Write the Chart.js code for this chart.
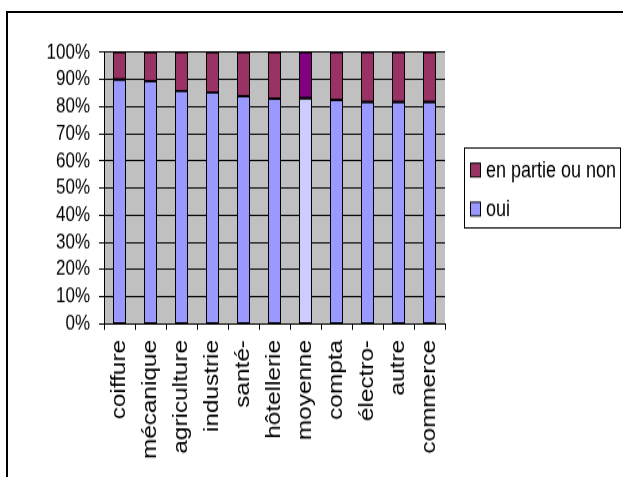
<!DOCTYPE html>
<html>
<head>
<meta charset="utf-8">
<script src="https://cdn.jsdelivr.net/npm/chart.js@4/dist/chart.umd.min.js"></script>
<style>
  html, body { margin: 0; padding: 0; background: #fff; overflow: hidden; }
  #frame { position: absolute; left: 6px; top: 11px; width: 640px; height: 500px; border: 2px solid #000; }
  #c { position: absolute; left: 0; top: 0; }
</style>
</head>
<body>
<div id="frame"></div>
<canvas id="c" width="623" height="382" style="width:623px;height:477px;display:block"></canvas>
<script>
// categories, sorted as in the picture
const categories = ["coiffure", "mécanique", "agriculture", "industrie", "santé-", "hôtellerie",
                    "moyenne", "compta", "électro-", "autre", "commerce"];
// share (%) answering "oui"
const oui = [90.0, 89.4, 85.8, 85.1, 83.8, 83.0, 83.1, 82.4, 81.7, 81.7, 81.7];
// share (%) answering "en partie ou non"
const enPartie = [10.0, 10.6, 14.2, 14.9, 16.2, 17.0, 16.9, 17.6, 18.3, 18.3, 18.3];
const yTicks = [0, 10, 20, 30, 40, 50, 60, 70, 80, 90, 100];

const FONT = "'Liberation Sans', Arial, sans-serif";
const OUI = "#9999FF", NON = "#993366";
const ouiColors = categories.map(c => c === "moyenne" ? "#CCCCFF" : OUI);
const nonColors = categories.map(c => c === "moyenne" ? "#800080" : NON);

// grey plot background
const plotBg = {
    id: "plotBg",
    beforeDraw(chart) {
        const { ctx, chartArea: a } = chart;
        ctx.save();
        ctx.fillStyle = "#C0C0C0";
        ctx.fillRect(a.left, a.top, a.right - a.left, a.bottom - a.top);
        ctx.restore();
    },
};

// black outline around every bar segment (built-in borders leave gaps at the joins)
const barOutline = {
    id: "barOutline",
    afterDatasetsDraw(chart) {
        const ctx = chart.ctx;
        ctx.save();
        ctx.strokeStyle = "#000";
        chart.data.datasets.forEach((ds, i) => {
            chart.getDatasetMeta(i).data.forEach(bar => {
                const { x, y, base, width } = bar.getProps(["x", "y", "base", "width"], true);
                const l = x - width / 2, r = x + width / 2;
                const top = Math.min(y, base), bot = Math.max(y, base);
                ctx.lineWidth = 1;
                ctx.beginPath();
                ctx.moveTo(l + 0.5, top); ctx.lineTo(l + 0.5, bot);
                ctx.moveTo(r - 0.5, top); ctx.lineTo(r - 0.5, bot);
                ctx.stroke();
                ctx.lineWidth = 1.6;
                ctx.beginPath();
                ctx.moveTo(l, top); ctx.lineTo(r, top);
                ctx.moveTo(l, bot); ctx.lineTo(r, bot);
                ctx.stroke();
            });
        });
        ctx.restore();
    },
};

// boxed legend on the right, "en partie ou non" first
const boxLegend = {
    id: "boxLegend",
    afterDraw(chart) {
        const ctx = chart.ctx;
        ctx.save();
        ctx.strokeStyle = "#000";
        ctx.lineWidth = 1;
        ctx.strokeRect(464.5, 118.5, 156, 64);
        const items = chart.data.datasets.slice().reverse();
        const ys = [136.2, 167.4];
        ctx.font = "18px " + FONT;
        ctx.textBaseline = "middle";
        items.forEach((ds, i) => {
            const y = ys[i];
            ctx.fillStyle = ds.legendColor;
            ctx.fillRect(470.5, y - 5.5, 10, 11);
            ctx.strokeRect(470.5, y - 5.5, 10, 11);
            ctx.fillStyle = "#000";
            ctx.fillText(ds.label, 486, y + 1);
        });
        ctx.restore();
    },
};

new Chart(document.getElementById("c").getContext("2d"), {
    type: "bar",
    data: {
        labels: categories,
        datasets: [
            { label: "oui", data: oui, backgroundColor: ouiColors, legendColor: OUI, borderWidth: 0 },
            { label: "en partie ou non", data: enPartie, backgroundColor: nonColors, legendColor: NON, borderWidth: 0 },
        ],
    },
    options: {
        responsive: false,
        animation: false,
        devicePixelRatio: 1,
        datasets: {
            bar: { barPercentage: 13 / 31, categoryPercentage: 1 },
        },
        layout: {
            padding: { top: 41.9, left: 0, right: 178, bottom: 0 },
        },
        scales: {
            x: {
                stacked: true,
                afterFit: (s) => { s.height = 382 - 259.2; },
                grid: { drawOnChartArea: false, color: "#000", tickLength: 5, offset: true },
                border: { color: "#000", width: 1 },
                ticks: {
                    autoSkip: false,
                    minRotation: 90,
                    maxRotation: 90,
                    padding: 8,
                    color: "#000",
                    font: { family: FONT, size: 19.5 },
                },
            },
            y: {
                stacked: true,
                min: 0,
                max: 100,
                afterFit: (s) => { s.width = 104; },
                afterBuildTicks: (s) => { s.ticks = yTicks.map(v => ({ value: v })); },
                grid: { color: "#000", lineWidth: 1, tickLength: 5 },
                border: { color: "#000", width: 1 },
                ticks: {
                    autoSkip: false,
                    padding: 9,
                    color: "#000",
                    font: { family: FONT, size: 17 },
                    callback: (v) => v + "%",
                },
            },
        },
        plugins: {
            legend: { display: false },
            tooltip: { enabled: false },
        },
    },
    plugins: [plotBg, barOutline, boxLegend],
});
</script>
</body>
</html>
